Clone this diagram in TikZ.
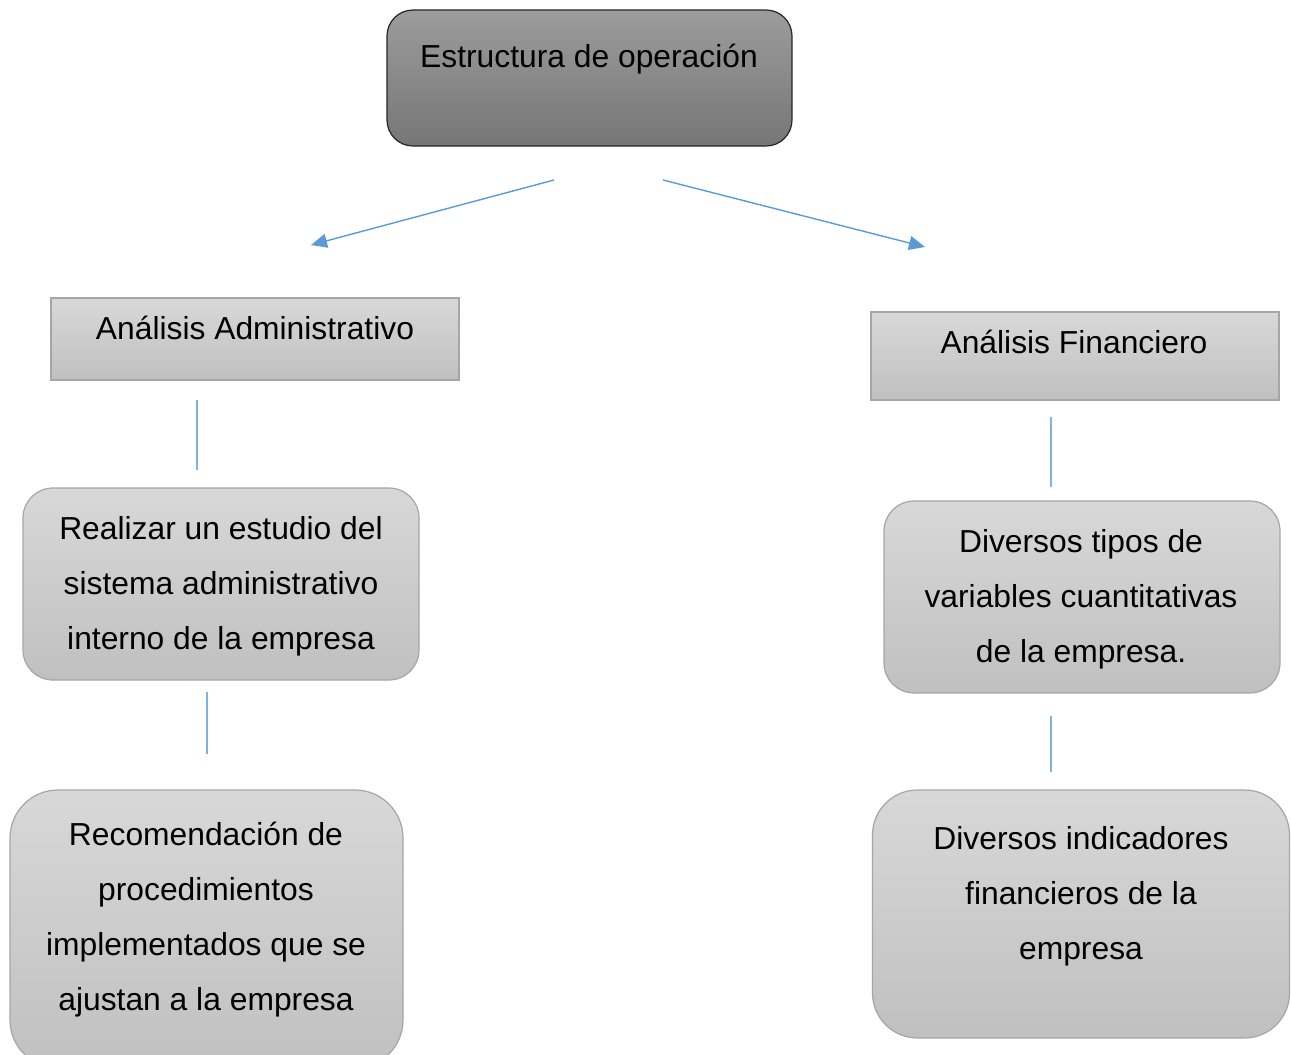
\documentclass[tikz,border=0pt]{standalone}
\usepackage{fontspec}
\setmainfont{Liberation Sans}
\usetikzlibrary{arrows.meta}
\definecolor{arrowblue}{HTML}{5B9BD5}
\definecolor{lineblue}{HTML}{7FB1E3}
\definecolor{darktop}{HTML}{9C9C9C}
\definecolor{darkbot}{HTML}{767676}
\definecolor{lighttop}{HTML}{D8D8D8}
\definecolor{lightbot}{HTML}{C0C0C0}
\definecolor{lightedge}{HTML}{A6A6A6}
\begin{document}
\begin{tikzpicture}[x=1pt,y=-1pt,
  darkbox/.style={draw=black!85, line width=1.2pt, rounded corners=26pt,
    top color=darktop, bottom color=darkbot, inner sep=0pt},
  flatbox/.style={draw=lightedge, line width=1.2pt,
    top color=lighttop, bottom color=lightbot, inner sep=0pt},
  softbox/.style={draw=lightedge, line width=1.2pt,
    top color=lighttop, bottom color=lightbot, inner sep=0pt},
  lbl/.style={font=\fontsize{31.8pt}{55pt}\selectfont, align=center, inner sep=0pt, anchor=base},
  arr/.style={draw=arrowblue, line width=1.4pt, -{Triangle[length=16pt,width=14pt]}},
  vline/.style={draw=lineblue, line width=1.6pt}]
\clip (0,0) rectangle (1291,1055);
\fill[white] (0,0) rectangle (1291,1055);
% boxes
\node[darkbox, minimum width=405pt, minimum height=136pt] (top) at (589.5,78) {};
\node[flatbox, minimum width=408pt, minimum height=82pt] (adm) at (255,339) {};
\node[flatbox, minimum width=408pt, minimum height=88pt] (fin) at (1075,356) {};
\node[softbox, rounded corners=30pt, minimum width=396pt, minimum height=192pt] (est) at (221,584) {};
\node[softbox, rounded corners=30pt, minimum width=396pt, minimum height=192pt] (var) at (1082,597) {};
\node[softbox, rounded corners=48pt, minimum width=393pt, minimum height=278pt] (rec) at (206.5,929) {};
\node[softbox, rounded corners=45pt, minimum width=417pt, minimum height=248pt] (ind) at (1081,914) {};
% texts (base anchor = baseline of the last line)
\node[lbl] (topT) at (589,67) {Estructura de operación};
\node[lbl] (admT) at (255,339) {Análisis Administrativo};
\node[lbl] (finT) at (1074,353) {Análisis Financiero};
\node[lbl] (estT) at (221,649) {Realizar un estudio del\\sistema administrativo\\interno de la empresa};
\node[lbl] (varT) at (1081,662) {Diversos tipos de\\variables cuantitativas\\de la empresa.};
\node[lbl] (recT) at (206,1010) {Recomendación de\\procedimientos\\implementados que se\\ajustan a la empresa};
\node[lbl] (indT) at (1081,959) {Diversos indicadores\\financieros de la\\empresa};
% connector ends
\coordinate (a1s) at (554,180);
\coordinate (a1e) at (311,245);
\coordinate (a2s) at (663,180);
\coordinate (a2e) at (925,247);
\coordinate (v1s) at (197,400);
\coordinate (v1e) at (197,470);
\coordinate (v2s) at (207,692);
\coordinate (v2e) at (207,754);
\coordinate (v3s) at (1051,417);
\coordinate (v3e) at (1051,487);
\coordinate (v4s) at (1051,716);
\coordinate (v4e) at (1051,772);
\draw[arr] (a1s) -- (a1e);
\draw[arr] (a2s) -- (a2e);
\draw[vline] (v1s) -- (v1e);
\draw[vline] (v2s) -- (v2e);
\draw[vline] (v3s) -- (v3e);
\draw[vline] (v4s) -- (v4e);
\end{tikzpicture}
\end{document}
